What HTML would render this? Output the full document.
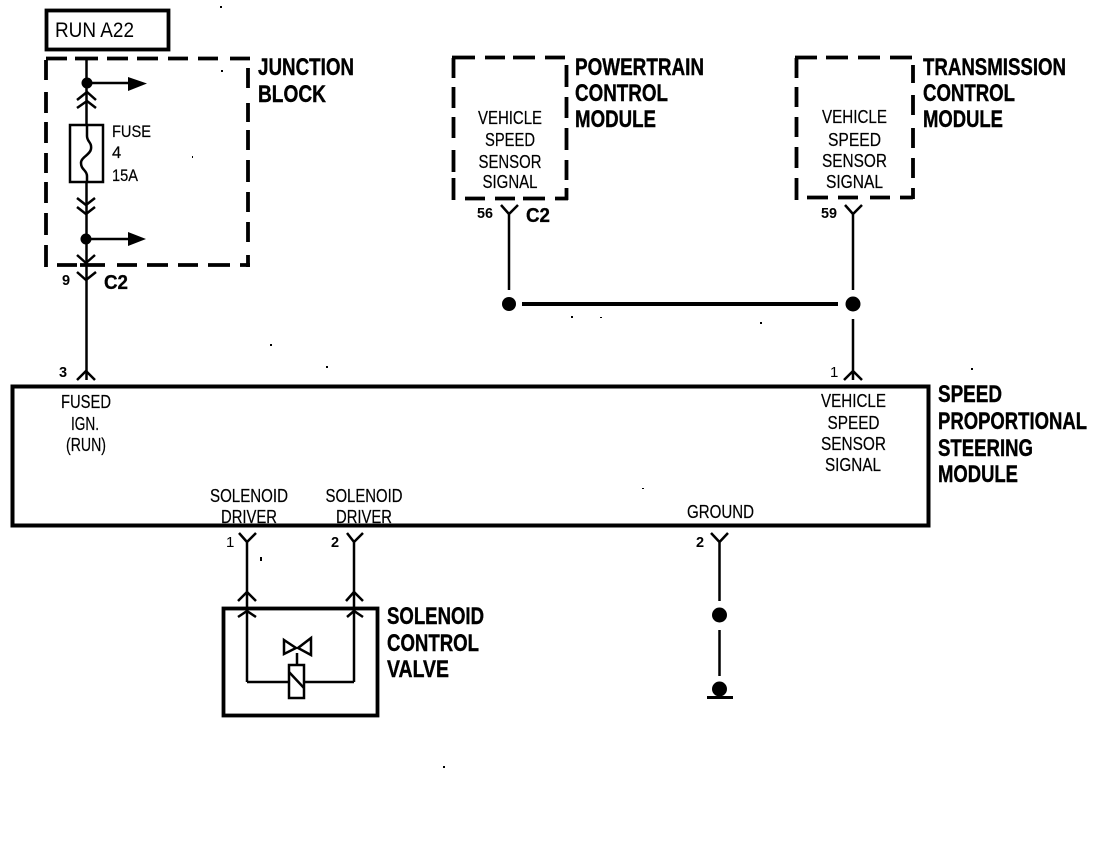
<!DOCTYPE html>
<html><head><meta charset="utf-8"><style>
html,body{margin:0;padding:0;background:#fff}
svg{display:block}
text{font-family:"Liberation Sans",sans-serif;fill:#000}
.b{font-weight:bold;font-size:24px;stroke:#000;stroke-width:.4}
.s{font-size:18.5px;stroke:#000;stroke-width:.2}
.f{font-size:16.5px;stroke:#000;stroke-width:.2}
.n{font-size:14.5px;font-weight:bold}
.c{font-size:20px;font-weight:bold;stroke:#000;stroke-width:.3}
.l{fill:none;stroke:#000;stroke-width:2.5}
.d{fill:none;stroke:#000;stroke-width:3.8}
</style></head><body>
<svg width="1104" height="844" viewBox="0 0 1104 844" xmlns="http://www.w3.org/2000/svg">
<!-- Run box -->
<rect x="46.500" y="10.500" width="122" height="39" fill="none" stroke="#000" stroke-width="3.800"/>
<text x="55" y="37" font-size="21" textLength="79" lengthAdjust="spacingAndGlyphs">RUN A22</text>

<!-- Junction block -->
<path class="d" d="M46 58.500H67M75 58.500H98M107 58.500H128M137 58.500H158M168 58.500H188M198 58.500H218M230 58.500H250"/>
<path class="d" d="M46 60V80M46 92V113M46 122V143M46 153V173M46 182V203M46 213V235M46 245V267"/>
<path class="d" d="M248 68V88M248 103V122M248 130V150M248 160V182M248 192V212M248 222V242M248 255V267"/>
<path class="d" d="M57 265H77M80 265H105M117 265H137M147 265H168M178 265H198M208 265H230M240 265H250"/>
<text class="b" x="258" y="75" textLength="96" lengthAdjust="spacingAndGlyphs">JUNCTION</text>
<text class="b" x="258" y="102" textLength="68" lengthAdjust="spacingAndGlyphs">BLOCK</text>
<path class="l" d="M86.500 60V126M86.500 182V380"/>
<circle cx="87" cy="83" r="5.500"/><circle cx="86" cy="239" r="5.500"/>
<path class="l" d="M87 83H132M86 239H132"/>
<path d="M128 77L147 83.500L128 91Z"/><path d="M128 232L146 239L128 246Z"/>
<path class="l" d="M77 100L87 92L96 100M77 108L87 101L96 108"/>
<path class="l" d="M77 198L86 205L95 198M77 207L86 214L95 207"/>
<rect x="70" y="125" width="33" height="57" fill="#fff" stroke="#000" stroke-width="2.500"/>
<path class="l" d="M87 125V136C87 142 92 142 91 149C90 155 81 157 81 163C81 170 87 170 87 176V182"/>
<text class="f" x="112" y="137" textLength="39" lengthAdjust="spacingAndGlyphs">FUSE</text>
<text class="f" x="112" y="158">4</text>
<text class="f" x="112" y="181" textLength="26" lengthAdjust="spacingAndGlyphs">15A</text>
<path class="l" d="M77 255L86 263L95 255M77 272L86 280L96 272"/>
<text class="n" x="62" y="285">9</text>
<text class="c" x="104" y="289" textLength="24" lengthAdjust="spacingAndGlyphs">C2</text>

<!-- PCM -->
<path class="d" d="M452 57.500H475M485 57.500H505M513 57.500H535M545 57.500H565"/>
<path class="d" d="M453.500 58V78M453.500 87V108M453.500 117V138M453.500 150V172M453.500 178V200"/>
<path class="d" d="M566.500 65V87M566.500 97V118M566.500 128V150M566.500 160V180M566.500 188V200"/>
<path class="d" d="M465 198.500H485M495 198.500H515M523 198.500H545M555 198.500H568"/>
<text class="b" x="575" y="75" textLength="129" lengthAdjust="spacingAndGlyphs">POWERTRAIN</text>
<text class="b" x="575" y="101" textLength="93" lengthAdjust="spacingAndGlyphs">CONTROL</text>
<text class="b" x="575" y="127" textLength="81" lengthAdjust="spacingAndGlyphs">MODULE</text>
<g class="s" text-anchor="middle">
<text x="510" y="124" textLength="64" lengthAdjust="spacingAndGlyphs">VEHICLE</text>
<text x="510" y="146" textLength="50" lengthAdjust="spacingAndGlyphs">SPEED</text>
<text x="510" y="168" textLength="63" lengthAdjust="spacingAndGlyphs">SENSOR</text>
<text x="510" y="188" textLength="55" lengthAdjust="spacingAndGlyphs">SIGNAL</text>
</g>
<path class="l" d="M501 205L509 214L518 205M509 213V290"/>
<text class="n" x="477" y="218" textLength="16" lengthAdjust="spacingAndGlyphs">56</text>
<text class="c" x="526" y="222" textLength="24" lengthAdjust="spacingAndGlyphs">C2</text>

<!-- TCM -->
<path class="d" d="M795 57.500H817M826 57.500H848M858 57.500H880M890 57.500H912"/>
<path class="d" d="M796.500 58V78M796.500 87V107M796.500 117V137M796.500 147V168M796.500 178V200"/>
<path class="d" d="M913 65V83M913 95V115M913 128V148M913 158V178M913 188V199"/>
<path class="d" d="M807 197.500H828M838 197.500H858M870 197.500H890M900 197.500H913"/>
<text class="b" x="923" y="75" textLength="143" lengthAdjust="spacingAndGlyphs">TRANSMISSION</text>
<text class="b" x="923" y="101" textLength="92" lengthAdjust="spacingAndGlyphs">CONTROL</text>
<text class="b" x="923" y="127" textLength="80" lengthAdjust="spacingAndGlyphs">MODULE</text>
<g class="s" text-anchor="middle">
<text x="854.500" y="123" textLength="65" lengthAdjust="spacingAndGlyphs">VEHICLE</text>
<text x="854.500" y="146" textLength="53" lengthAdjust="spacingAndGlyphs">SPEED</text>
<text x="854.500" y="167" textLength="65" lengthAdjust="spacingAndGlyphs">SENSOR</text>
<text x="854.500" y="188" textLength="57" lengthAdjust="spacingAndGlyphs">SIGNAL</text>
</g>
<path class="l" d="M845 205L853 214L862 205M853 213V290"/>
<text class="n" x="821" y="218" textLength="16" lengthAdjust="spacingAndGlyphs">59</text>

<!-- Splice -->
<circle cx="509" cy="304" r="7"/><circle cx="853" cy="304" r="7.500"/>
<path d="M522 302H838V306H522Z"/>
<path class="l" d="M853 319V380M844 380L853 371L862 380"/>
<text x="830" y="377" font-size="15">1</text>

<!-- Steering module -->
<rect x="12.500" y="386.500" width="916" height="139" fill="none" stroke="#000" stroke-width="4"/>
<text class="b" x="938" y="402" textLength="64" lengthAdjust="spacingAndGlyphs">SPEED</text>
<text class="b" x="938" y="429" textLength="149" lengthAdjust="spacingAndGlyphs">PROPORTIONAL</text>
<text class="b" x="938" y="456" textLength="95" lengthAdjust="spacingAndGlyphs">STEERING</text>
<text class="b" x="938" y="482" textLength="80" lengthAdjust="spacingAndGlyphs">MODULE</text>
<path class="l" d="M77 380L86 371L95 380"/>
<text class="n" x="59" y="377">3</text>
<g class="s" text-anchor="middle">
<text x="86" y="408" textLength="50" lengthAdjust="spacingAndGlyphs">FUSED</text>
<text x="85" y="430" textLength="28" lengthAdjust="spacingAndGlyphs">IGN.</text>
<text x="86" y="451" textLength="40" lengthAdjust="spacingAndGlyphs">(RUN)</text>
<text x="853.500" y="407" textLength="65" lengthAdjust="spacingAndGlyphs">VEHICLE</text>
<text x="853.500" y="429" textLength="52" lengthAdjust="spacingAndGlyphs">SPEED</text>
<text x="853.500" y="450" textLength="65" lengthAdjust="spacingAndGlyphs">SENSOR</text>
<text x="853" y="471" textLength="56" lengthAdjust="spacingAndGlyphs">SIGNAL</text>
<text x="249" y="502" textLength="78" lengthAdjust="spacingAndGlyphs">SOLENOID</text>
<text x="249" y="523" textLength="56" lengthAdjust="spacingAndGlyphs">DRIVER</text>
<text x="364" y="502" textLength="77" lengthAdjust="spacingAndGlyphs">SOLENOID</text>
<text x="364" y="523" textLength="56" lengthAdjust="spacingAndGlyphs">DRIVER</text>
<text x="720.500" y="518" textLength="67" lengthAdjust="spacingAndGlyphs">GROUND</text>
</g>

<!-- Below module connectors -->
<path class="l" d="M239 533L247 542L256 533M247 541V682M347 533L354 542L363 533M354 541V682"/>
<path class="l" d="M238 601L247 592L256 601M346 601L354 592L363 601"/>
<path class="l" d="M238 617L247 611L256 617M347 617L354 611L363 617"/>
<text x="226" y="547" font-size="15">1</text>
<text class="n" x="331" y="547">2</text>

<!-- Solenoid valve -->
<rect x="223.500" y="608.500" width="154" height="107" fill="none" stroke="#000" stroke-width="3.800"/>
<path class="l" d="M247 682H354"/>
<rect x="289" y="665" width="15" height="33" fill="#fff" stroke="#000" stroke-width="2.500"/>
<path class="l" d="M289 672L304 688"/>
<path class="l" d="M297 665V653M284 640L296 648L284 654ZM311 638L298 648L311 655Z"/>
<text class="b" x="387" y="624" textLength="97" lengthAdjust="spacingAndGlyphs">SOLENOID</text>
<text class="b" x="387" y="651" textLength="92" lengthAdjust="spacingAndGlyphs">CONTROL</text>
<text class="b" x="387" y="677" textLength="62" lengthAdjust="spacingAndGlyphs">VALVE</text>

<!-- Ground -->
<path class="l" d="M711 533L719.500 542L728 533M719.500 541V601M719.500 630V676"/>
<text class="n" x="696" y="547">2</text>
<circle cx="719.500" cy="615" r="7.500"/>
<circle cx="719.500" cy="689" r="7.500"/>
<rect x="707" y="696" width="26" height="3"/>

<!-- Specks -->
<g>
<rect x="220" y="6" width="2" height="2"/><rect x="221" y="70" width="2" height="2"/>
<rect x="192" y="156" width="1" height="2"/><rect x="571" y="316" width="2" height="2"/>
<rect x="760" y="322" width="2" height="2"/><rect x="443" y="766" width="2" height="2"/>
<rect x="260" y="557" width="2" height="4"/><rect x="971" y="368" width="2" height="2"/>
<rect x="600" y="317" width="2" height="1"/><rect x="270" y="344" width="2" height="2"/>
<rect x="326" y="366" width="2" height="2"/><rect x="642" y="488" width="2" height="1"/>
</g>
</svg>
</body></html>
